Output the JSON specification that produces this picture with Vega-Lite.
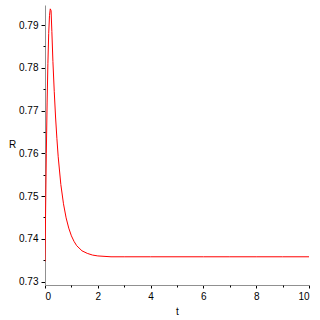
{
  "$schema": "https://vega.github.io/schema/vega-lite/v6.json",
  "width": 264,
  "height": 280,
  "autosize": {"type": "none"},
  "padding": {"left": 45, "top": 5, "right": 11, "bottom": 35},
  "background": "white",
  "config": {"view": {"stroke": null}, "font": "Liberation Sans"},
  "data": {"values": [
    {"t": 0, "R": 0.7347},
    {"t": 0.02, "R": 0.745},
    {"t": 0.05, "R": 0.760},
    {"t": 0.08, "R": 0.772},
    {"t": 0.11, "R": 0.781},
    {"t": 0.14, "R": 0.788},
    {"t": 0.17, "R": 0.7922},
    {"t": 0.2, "R": 0.7938},
    {"t": 0.23, "R": 0.7934},
    {"t": 0.26, "R": 0.7885},
    {"t": 0.3, "R": 0.7815},
    {"t": 0.35, "R": 0.7745},
    {"t": 0.4, "R": 0.7685},
    {"t": 0.45, "R": 0.7635},
    {"t": 0.5, "R": 0.7592},
    {"t": 0.6, "R": 0.7527},
    {"t": 0.7, "R": 0.7482},
    {"t": 0.8, "R": 0.7449},
    {"t": 0.9, "R": 0.7425},
    {"t": 1.0, "R": 0.7407},
    {"t": 1.1, "R": 0.7394},
    {"t": 1.2, "R": 0.7384},
    {"t": 1.4, "R": 0.7372},
    {"t": 1.6, "R": 0.7366},
    {"t": 1.8, "R": 0.7362},
    {"t": 2.0, "R": 0.7360},
    {"t": 2.5, "R": 0.7358},
    {"t": 3, "R": 0.7358},
    {"t": 4, "R": 0.7358},
    {"t": 5, "R": 0.7358},
    {"t": 6, "R": 0.7358},
    {"t": 7, "R": 0.7358},
    {"t": 8, "R": 0.7358},
    {"t": 9, "R": 0.7358},
    {"t": 10, "R": 0.7358}
  ]},
  "layer": [
    {
      "mark": {"type": "line", "color": "#ff0000", "strokeWidth": 1, "clip": true},
      "encoding": {
        "x": {"field": "t", "type": "quantitative", "scale": {"domain": [0, 10], "nice": false, "zero": false},
          "axis": {"values": [0, 2, 4, 6, 8, 10], "title": "t", "grid": false, "domainColor": "#909090", "tickColor": "#000000", "tickSize": 3, "labelFontSize": 10, "labelColor": "#000", "labelPadding": 3, "titleFontSize": 10, "titleFontWeight": "normal", "titleColor": "#000", "titlePadding": 5}},
        "y": {"field": "R", "type": "quantitative", "scale": {"domain": [0.7292, 0.7947], "nice": false, "zero": false},
          "axis": {"values": [0.73, 0.74, 0.75, 0.76, 0.77, 0.78, 0.79], "format": ".2f", "title": "R", "grid": false, "domainColor": "#909090", "tickColor": "#000000", "tickSize": 4, "labelFontSize": 10, "labelColor": "#000", "labelPadding": 3, "titleFontSize": 10, "titleFontWeight": "normal", "titleColor": "#000", "titleAngle": 0, "titleX": -33, "titleY": 144}}
      }
    },
    {
      "mark": {"type": "line", "opacity": 0},
      "encoding": {
        "x": {"field": "t", "type": "quantitative", "scale": {"domain": [0, 10], "nice": false, "zero": false},
          "axis": {"orient": "bottom", "values": [1, 3, 5, 7, 9], "labels": false, "title": null, "grid": false, "domain": false, "tickColor": "#000000", "tickSize": 2}},
        "y": {"field": "R", "type": "quantitative", "scale": {"domain": [0.7292, 0.7947], "nice": false, "zero": false},
          "axis": {"orient": "left", "values": [0.735, 0.745, 0.755, 0.765, 0.775, 0.785], "labels": false, "title": null, "grid": false, "domain": false, "tickColor": "#000000", "tickSize": 2}}
      }
    }
  ],
  "resolve": {"axis": {"x": "independent", "y": "independent"}}
}
